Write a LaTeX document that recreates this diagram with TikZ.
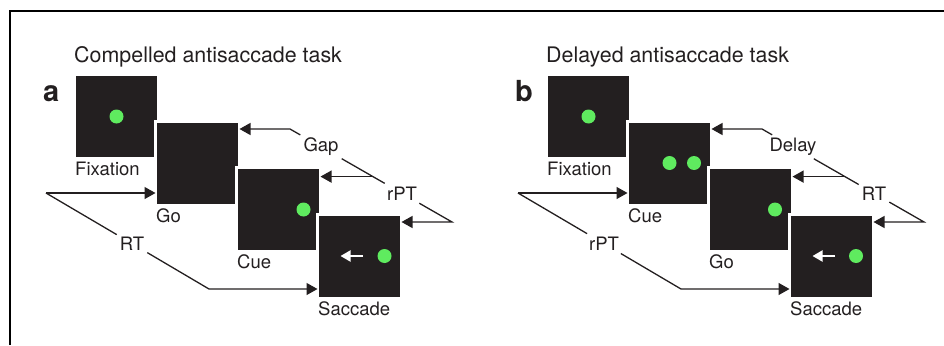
\documentclass[tikz,border=0pt]{standalone}
\usepackage{fontspec}
\setmainfont{TeX Gyre Heros}
\usepackage{tikz}
\usetikzlibrary{arrows.meta,positioning,calc}
\definecolor{cScreen}{RGB}{35,31,32}
\definecolor{cDot}{RGB}{95,235,95}
\definecolor{cInk}{RGB}{35,31,32}
\tikzset{
  screen/.style={rectangle,fill=cScreen,draw=white,line width=3pt,
                 minimum size=84pt,inner sep=0pt,outer sep=0pt},
  spot/.style={circle,fill=cDot,minimum size=14pt,inner sep=0pt},
  scrlabel/.style={anchor=base west,inner sep=0pt,text=cInk,
                   font=\fontsize{18.5}{22}\selectfont},
  ttl/.style={anchor=base west,inner sep=0pt,text=cInk,
              font=\fontsize{21.4}{25}\selectfont},
  letter/.style={anchor=base west,inner sep=0pt,text=cInk,
                 font=\fontsize{29}{33}\selectfont\bfseries},
  ivl/.style={fill=white,inner sep=3pt,text=cInk,
              font=\fontsize{18.5}{22}\selectfont},
  bkt/.style={line width=1.3pt,color=cInk},
  arr/.style={bkt,-{Triangle[length=11pt,width=12pt]}},
  warr/.style={line width=2pt,white,-{Triangle[length=10pt,width=11pt]}}
}
\begin{document}
\begin{tikzpicture}[x=1pt,y=-1pt]
  \useasboundingbox (0,0) rectangle (944,345);
  \draw[line width=1.2pt] (10,345) -- (10,11) -- (944,11);

  % a: compelled
  \node[ttl] (ttlA) at (74,63) {Compelled antisaccade task};
  \node[letter] (letA) at (43,101) {a};
  \foreach \n/\t [count=\i from 0] in {fixA/Fixation,goA/Go,cueA/Cue,sacA/Saccade}{
    \node[screen] (\n) at (116.5+81*\i,116.5+46.5*\i) {};
    \node[scrlabel] (\n-l) at ($(\n.south west)+(0.5,17)$) {\t};
  }
  \node[spot] (dA1) at (fixA) {};
  \node[spot] (dA2) at ($(cueA)+(25,0)$) {};
  \node[spot] (dA3) at ($(sacA)+(25,0)$) {};
  \coordinate (wA1) at ($(sacA)+(3.5,0)$);
  \coordinate (wA2) at ($(sacA)+(-19,0)$);
  \draw[warr] (wA1) -- (wA2);

  \coordinate (tA) at (290,129);
  \coordinate (jA) at (373,176.6);
  \coordinate (eA) at (452,222);
  \node[ivl] (gapA) at (321,146.8) {Gap};
  \node[ivl] (rptA) at (402,193.3) {rPT};
  \draw[arr] (gapA) -- (tA) -- (tA -| goA.east);
  \draw[bkt] (gapA) -- (rptA);
  \draw[arr] (jA) -- (jA -| cueA.east);
  \draw[arr] (rptA) -- (eA) -- (eA -| sacA.east);

  \coordinate (sA) at (46,193);
  \coordinate (fA) at (209,289);
  \node[ivl] (rtA) at (132,243.6) {RT};
  \draw[arr] (sA) -- (sA -| goA.west);
  \draw[bkt] (sA) -- (rtA);
  \draw[arr] (rtA) -- (fA) -- (fA -| sacA.west);

  % b: delayed
  \begin{scope}[xshift=472pt]
  \node[ttl] (ttlB) at (74,63) {Delayed antisaccade task};
  \node[letter] (letB) at (43,101) {b};
  \foreach \n/\t [count=\i from 0] in {fixB/Fixation,cueB/Cue,goB/Go,sacB/Saccade}{
    \node[screen] (\n) at (116.5+81*\i,116.5+46.5*\i) {};
    \node[scrlabel] (\n-l) at ($(\n.south west)+(0.5,17)$) {\t};
  }
  \node[spot] (dB1) at (fixB) {};
  \node[spot] (dB2) at (cueB) {};
  \node[spot] (dB3) at ($(cueB)+(24.5,0)$) {};
  \node[spot] (dB4) at ($(goB)+(24.5,0)$) {};
  \node[spot] (dB5) at ($(sacB)+(24.5,0)$) {};
  \coordinate (wB1) at ($(sacB)+(3.5,0)$);
  \coordinate (wB2) at ($(sacB)+(-19,0)$);
  \draw[warr] (wB1) -- (wB2);

  \coordinate (tB) at (290,129);
  \coordinate (jB) at (373,176.6);
  \coordinate (eB) at (452,222);
  \node[ivl] (dlyB) at (321,146.8) {Delay};
  \node[ivl] (rtB) at (402,193.3) {RT};
  \draw[arr] (dlyB) -- (tB) -- (tB -| cueB.east);
  \draw[bkt] (dlyB) -- (rtB);
  \draw[arr] (jB) -- (jB -| goB.east);
  \draw[arr] (rtB) -- (eB) -- (eB -| sacB.east);

  \coordinate (sB) at (46,193);
  \coordinate (fB) at (209,289);
  \node[ivl] (rptB) at (132,243.6) {rPT};
  \draw[arr] (sB) -- (sB -| cueB.west);
  \draw[bkt] (sB) -- (rptB);
  \draw[arr] (rptB) -- (fB) -- (fB -| sacB.west);
  \end{scope}
\end{tikzpicture}
\end{document}
